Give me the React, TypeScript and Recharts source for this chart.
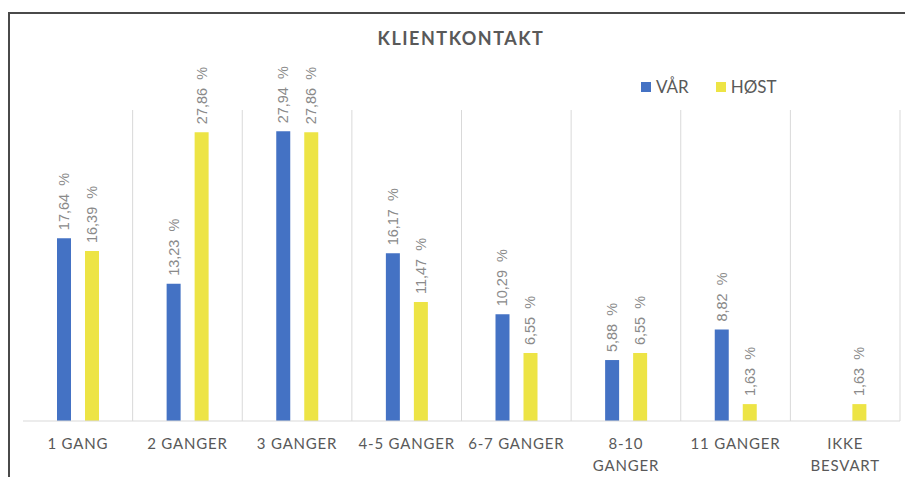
import React from "react";
import { BarChart, Bar, XAxis, YAxis, CartesianGrid, LabelList } from "recharts";

const categories = ["1 GANG", "2 GANGER", "3 GANGER", "4-5 GANGER", "6-7 GANGER", "8-10\nGANGER", "11 GANGER", "IKKE\nBESVART"];
const varValues: (number | null)[] = [17.64, 13.23, 27.94, 16.17, 10.29, 5.88, 8.82, null];
const hostValues: (number | null)[] = [16.39, 27.86, 27.86, 11.47, 6.55, 6.55, 1.63, 1.63];
const seriesNames = ["VÅR", "HØST"];
const title = "KLIENTKONTAKT";

const BLUE = "#4472C4";
const YELLOW = "#EDE445";
const TEXT = "#595959";
const LABEL = "#8a8a8a";
const GRID = "#D9D9D9";

const data = categories.map((c, i) => ({ name: c, var: varValues[i], host: hostValues[i] }));

const fmt = (v: number) => v.toFixed(2).replace(".", ",") + "\u00a0 %";

const RotLabel = (props: any) => {
  const { x, y, width, value } = props;
  if (value == null) return null;
  const cx = x + width / 2;
  const cy = y - 8;
  return (
    <text
      x={cx}
      y={cy}
      transform={`rotate(-90 ${cx} ${cy})`}
      textAnchor="start"
      dominantBaseline="central"
      fill={LABEL}
      fontSize={14.5}
      fontFamily="'Liberation Sans', Arial, sans-serif"
    >
      {fmt(value)}
    </text>
  );
};

const Tick = (props: any) => {
  const { x, y, payload } = props;
  const lines = String(payload.value).split("\n");
  return (
    <g>
      {lines.map((l: string, i: number) => (
        <text
          key={i}
          x={x}
          y={y + 20 + i * 22}
          textAnchor="middle"
          fill={TEXT}
          fontSize={15}
          letterSpacing={0.8}
          fontFamily="Lato, 'Open Sans', sans-serif"
        >
          {l}
        </text>
      ))}
    </g>
  );
};

export default function App() {
  return (
    <div style={{ position: "absolute", left: 0, top: 0, width: 905, height: 477, background: "#fff", overflow: "hidden" }}>
      <div
        style={{
          position: "absolute",
          left: 8,
          top: 12,
          width: 910,
          height: 480,
          borderTop: "2px solid #4a4a4a",
          borderLeft: "2px solid #4a4a4a",
          boxSizing: "border-box",
        }}
      />
      <div
        style={{
          position: "absolute",
          left: 0,
          top: 27,
          width: 922,
          textAlign: "center",
          fontFamily: "Lato, 'Open Sans', sans-serif",
          fontWeight: 700,
          fontSize: 18,
          letterSpacing: 1.5,
          color: TEXT,
        }}
      >
        {title}
      </div>
      <div
        style={{
          position: "absolute",
          left: 641,
          top: 76,
          display: "flex",
          alignItems: "center",
          fontFamily: "Lato, 'Open Sans', sans-serif",
          fontSize: 17,
          color: TEXT,
        }}
      >
        <span style={{ width: 10, height: 10, background: BLUE, display: "inline-block", marginRight: 5 }} />
        <span style={{ marginRight: 27 }}>{seriesNames[0]}</span>
        <span style={{ width: 10, height: 10, background: YELLOW, display: "inline-block", marginRight: 5 }} />
        <span>{seriesNames[1]}</span>
      </div>
      <div style={{ position: "absolute", left: 0, top: 0 }}>
        <BarChart
          width={905}
          height={477}
          data={data}
          margin={{ top: 110, right: 5, left: 23, bottom: 6 }}
          barSize={14}
          barGap={14}
        >
          <CartesianGrid
            horizontal={false}
            stroke={GRID}
            verticalCoordinatesGenerator={({ offset }: any) =>
              categories.map((_, i) => offset.left + ((i + 1) * offset.width) / categories.length)
            }
          />
          <XAxis
            dataKey="name"
            height={50}
            axisLine={{ stroke: GRID }}
            tickLine={false}
            interval={0}
            tick={<Tick />}
          />
          <YAxis hide domain={[0, 30]} />
          <Bar dataKey="var" fill={BLUE} isAnimationActive={false}>
            <LabelList dataKey="var" content={<RotLabel />} />
          </Bar>
          <Bar dataKey="host" fill={YELLOW} isAnimationActive={false}>
            <LabelList dataKey="host" content={<RotLabel />} />
          </Bar>
        </BarChart>
      </div>
    </div>
  );
}
